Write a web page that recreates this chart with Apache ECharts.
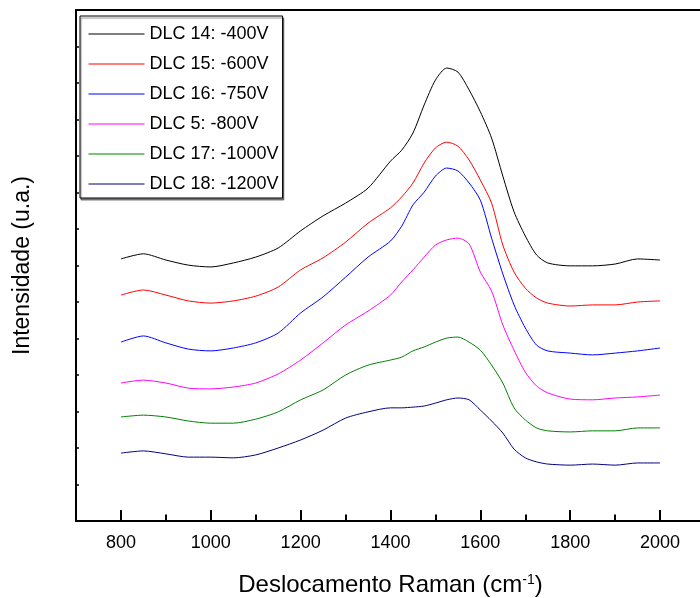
<!DOCTYPE html>
<html>
<head>
<meta charset="utf-8">
<script src="https://cdn.jsdelivr.net/npm/echarts@6.0.0/dist/echarts.min.js"></script>
<style>
  html, body { margin: 0; padding: 0; background: #fff; }
  #chart { width: 700px; height: 598px; }
</style>
</head>
<body>
<div id="chart"></div>
<script>
// Raman shift (cm-1)
const shift = [800, 850, 900, 950, 1000, 1050, 1100, 1150, 1200, 1250, 1300, 1350, 1400, 1425,
  1450, 1475, 1500, 1525, 1550, 1575, 1600, 1625, 1650, 1675, 1700, 1725, 1750, 1800, 1850, 1900, 1950, 2000];

// intensities (a.u., offset curves)
const dlc14 = [7.18, 7.32, 7.15, 7.01, 6.96, 7.07, 7.23, 7.48, 7.95, 8.36, 8.71, 9.12, 9.86, 10.16,
  10.63, 11.40, 12.08, 12.41, 12.30, 11.81, 11.21, 10.49, 9.45, 8.47, 7.81, 7.29, 7.07, 6.99, 6.99, 7.04, 7.18, 7.15];
const dlc15 = [6.19, 6.33, 6.19, 6.03, 5.97, 6.03, 6.16, 6.41, 6.88, 7.21, 7.64, 8.16, 8.58, 8.88,
  9.26, 9.81, 10.22, 10.38, 10.27, 9.89, 9.34, 8.71, 7.56, 6.82, 6.38, 6.11, 5.97, 5.89, 5.92, 5.92, 6.00, 6.03];
const dlc16 = [4.90, 5.07, 4.88, 4.71, 4.66, 4.74, 4.88, 5.15, 5.70, 6.14, 6.68, 7.23, 7.67, 8.08,
  8.66, 9.01, 9.45, 9.67, 9.59, 9.26, 8.79, 7.75, 6.77, 5.92, 5.29, 4.82, 4.66, 4.60, 4.55, 4.60, 4.66, 4.74];
const dlc5 = [3.78, 3.86, 3.78, 3.64, 3.62, 3.67, 3.78, 4.03, 4.41, 4.88, 5.37, 5.75, 6.19, 6.55,
  6.88, 7.23, 7.56, 7.70, 7.75, 7.59, 6.82, 6.30, 5.37, 4.68, 4.08, 3.70, 3.51, 3.34, 3.32, 3.37, 3.40, 3.45];
const dlc17 = [2.85, 2.90, 2.85, 2.74, 2.68, 2.68, 2.79, 2.99, 3.32, 3.59, 4.00, 4.27, 4.41, 4.49,
  4.66, 4.77, 4.90, 5.01, 5.04, 4.90, 4.68, 4.27, 3.78, 3.10, 2.77, 2.55, 2.47, 2.44, 2.47, 2.47, 2.55, 2.55];
const dlc18 = [1.86, 1.92, 1.84, 1.75, 1.75, 1.73, 1.81, 2.00, 2.22, 2.49, 2.82, 2.99, 3.10, 3.10,
  3.12, 3.15, 3.23, 3.32, 3.37, 3.32, 3.04, 2.74, 2.41, 1.97, 1.73, 1.62, 1.56, 1.53, 1.56, 1.53, 1.59, 1.59];

const names = ['DLC 14: -400V', 'DLC 15: -600V', 'DLC 16: -750V', 'DLC 5: -800V', 'DLC 17: -1000V', 'DLC 18: -1200V'];
const colors = ['#000000', '#ff0000', '#0000ff', '#ff00ff', '#008000', '#000080'];
const curves = [dlc14, dlc15, dlc16, dlc5, dlc17, dlc18];

// x tick labels / tick positions
const majorTicks = [800, 1000, 1200, 1400, 1600, 1800, 2000];
const minorTicks = [900, 1100, 1300, 1500, 1700, 1900];

const font = 'Liberation Sans, Arial, sans-serif';
const majorLen = 0.3;   // tick heights in y units
const minorLen = 0.18;

let series = curves.map((c, i) => ({
  name: names[i],
  type: 'line',
  symbol: 'none',
  smooth: 0.25,
  lineStyle: { color: colors[i], width: 1 },
  itemStyle: { color: colors[i] },
  data: shift.map((x, k) => [x, c[k]])
}));

// inward x ticks drawn through the axes' own scales
series.push({
  name: 'ticks',
  type: 'line',
  data: [],
  silent: true,
  markLine: {
    silent: true,
    symbol: 'none',
    label: { show: false },
    lineStyle: { color: '#000', width: 2, type: 'solid' },
    emphasis: { disabled: true },
    data: majorTicks.map(v => [{ coord: [v, 0] }, { coord: [v, majorLen] }])
      .concat(minorTicks.map(v => [{ coord: [v, 0] }, { coord: [v, minorLen] }]))
  }
});

let option = {
  animation: false,
  grid: {
    left: 76, top: 10, right: -5, bottom: 77,
    outerBoundsMode: 'none'
  },
  legend: {
    orient: 'vertical',
    left: 80, top: 16,
    padding: [9, 4, 5, 8],
    itemWidth: 56, itemHeight: 18, itemGap: 12,
    backgroundColor: '#fff',
    borderColor: '#000', borderWidth: 1,
    shadowColor: 'rgba(0,0,0,0.45)', shadowBlur: 1, shadowOffsetX: 1, shadowOffsetY: 2,
    itemStyle: { opacity: 0 },
    lineStyle: { width: 1 },
    textStyle: { fontSize: 18, fontFamily: font, color: '#000' },
    data: names
  },
  xAxis: [
    {
      type: 'value', min: 700, max: 2100, interval: 100, position: 'bottom',
      axisLine: { show: true, onZero: false, lineStyle: { color: '#000', width: 2 } },
      axisTick: { show: false },
      axisLabel: {
        customValues: majorTicks, margin: 13, fontSize: 18, fontFamily: font, color: '#000',
        formatter: v => String(v)
      },
      splitLine: { show: false },
      name: '{a|Deslocamento Raman (cm}{s|-1}{a|)}',
      nameLocation: 'middle', nameGap: 52,
      nameTextStyle: {
        rich: {
          a: { fontSize: 24, fontFamily: font, color: '#000' },
          s: { fontSize: 14, fontFamily: font, color: '#000', verticalAlign: 'top' }
        }
      }
    },
    {
      // top frame line
      type: 'value', min: 700, max: 2100, position: 'top',
      axisLine: { show: true, onZero: false, lineStyle: { color: '#000', width: 2 } },
      axisTick: { show: false },
      axisLabel: { show: false },
      splitLine: { show: false }
    }
  ],
  yAxis: {
    type: 'value', min: 0, max: 14, interval: 1,
    axisLine: { show: true, onZero: false, lineStyle: { color: '#000', width: 2 } },
    axisTick: { show: true, inside: true, length: 3, lineStyle: { width: 1.5 } },
    axisLabel: { show: false },
    splitLine: { show: false },
    name: 'Intensidade (u.a.)',
    nameLocation: 'middle', nameGap: 42,
    nameTextStyle: { fontSize: 23, fontFamily: font, color: '#000' }
  },
  series: series
};

let myChart = echarts.init(document.getElementById('chart'));
myChart.setOption(option);
</script>
</body>
</html>
